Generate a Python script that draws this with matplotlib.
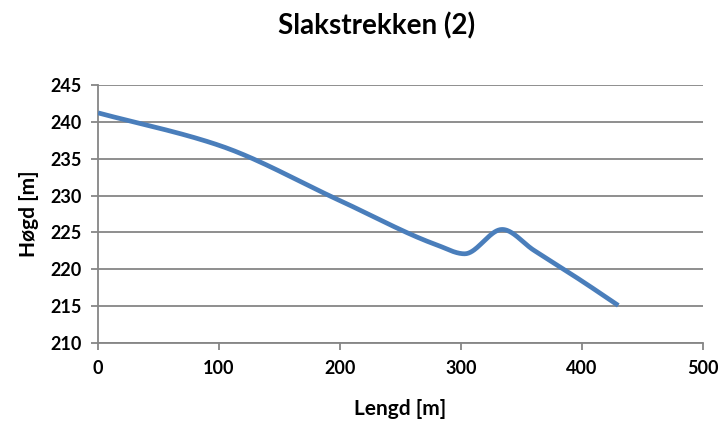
from matplotlib import pyplot as plt
import numpy as np

plt.rcParams["font.family"] = ["Lato", "DejaVu Sans"]

# profile points
lengd = [0, 100, 200, 280, 303, 334, 360, 400, 430]
hogd = [241.2, 236.8, 229.3, 223.3, 222.1, 225.4, 222.6, 218.4, 215.1]

x_ticks = [0, 100, 200, 300, 400, 500]
y_ticks = [210, 215, 220, 225, 230, 235, 240, 245]


def smooth(xs, ys, n=40):
    # monotone cubic (fritsch-carlson) so the dip/peak stay rounded
    xs = np.asarray(xs, float)
    ys = np.asarray(ys, float)
    h = np.diff(xs)
    d = np.diff(ys) / h
    m = np.zeros_like(ys)
    m[0], m[-1] = d[0], d[-1]
    for k in range(1, len(xs) - 1):
        if d[k - 1] * d[k] > 0:
            w1 = 2 * h[k] + h[k - 1]
            w2 = h[k] + 2 * h[k - 1]
            m[k] = (w1 + w2) / (w1 / d[k - 1] + w2 / d[k])
    out_x, out_y = [], []
    t = np.linspace(0, 1, n)
    for k in range(len(xs) - 1):
        h00 = 2 * t ** 3 - 3 * t ** 2 + 1
        h10 = t ** 3 - 2 * t ** 2 + t
        h01 = -2 * t ** 3 + 3 * t ** 2
        h11 = t ** 3 - t ** 2
        out_x.extend(xs[k] + t * h[k])
        out_y.extend(h00 * ys[k] + h10 * h[k] * m[k] + h01 * ys[k + 1] + h11 * h[k] * m[k + 1])
    return out_x, out_y


fig = plt.figure(figsize=(7.21, 4.22), dpi=100)
ax = fig.add_axes([0.136, 0.187, 0.839, 0.612])

sx, sy = smooth(lengd, hogd)
ax.plot(sx, sy, color="#4a7ebb", linewidth=3.4, solid_capstyle="butt", zorder=3)

ax.set_xlim(0, 500)
ax.set_ylim(210, 245)
ax.set_xticks(x_ticks)
ax.set_yticks(y_ticks)
ax.yaxis.grid(True, color="#868686", linewidth=1.3)
ax.set_axisbelow(True)

for s in ["top", "right"]:
    ax.spines[s].set_visible(False)
for s in ["left", "bottom"]:
    ax.spines[s].set_color("#868686")
    ax.spines[s].set_linewidth(1.3)
ax.tick_params(direction="out", length=5, width=1.3, color="#868686", pad=7)
for lab in ax.get_xticklabels() + ax.get_yticklabels():
    lab.set_fontweight("bold")
    lab.set_fontsize(13)

fig.suptitle("Slakstrekken (2)", x=0.522, y=0.97, fontsize=20, fontweight="bold")
ax.set_xlabel("Lengd [m]", fontsize=15, fontweight="bold", labelpad=16)
ax.set_ylabel("Høgd [m]", fontsize=15, fontweight="bold", labelpad=8)

plt.savefig("out.png", dpi=100)
